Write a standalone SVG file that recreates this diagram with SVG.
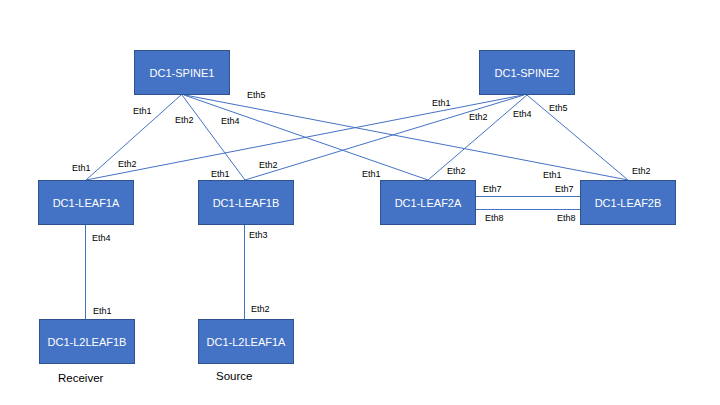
<svg xmlns="http://www.w3.org/2000/svg" width="720" height="405" viewBox="0 0 720 405">
<style>
.box{fill:#4472C4;stroke:#2F528F;stroke-width:1}
.nl{fill:#fff;font-family:"Liberation Sans",Arial,sans-serif;font-size:11px;text-anchor:middle}
.lk{stroke:#4472C4;stroke-width:1;fill:none}
.pl{fill:#000;font-family:"Liberation Sans",Arial,sans-serif;font-size:9px}
.cap{fill:#000;font-family:"Liberation Sans",Arial,sans-serif;font-size:11.5px}
</style>
<rect width="720" height="405" fill="#fff"/>
<g id="connectors">
<line class="lk" x1="181" y1="95" x2="86" y2="180"/>
<line class="lk" x1="182" y1="95" x2="245" y2="180"/>
<line class="lk" x1="184" y1="95" x2="428" y2="180"/>
<line class="lk" x1="185" y1="95" x2="628" y2="180"/>
<line class="lk" x1="523" y1="95" x2="86" y2="180"/>
<line class="lk" x1="524" y1="95" x2="245" y2="180"/>
<line class="lk" x1="527" y1="95" x2="428" y2="180"/>
<line class="lk" x1="527" y1="95" x2="628" y2="180"/>
<line class="lk" x1="476" y1="196.5" x2="580" y2="196.5"/>
<line class="lk" x1="476" y1="209.5" x2="580" y2="209.5"/>
<line class="lk" x1="85.5" y1="224" x2="85.5" y2="319"/>
<line class="lk" x1="244.5" y1="224" x2="244.5" y2="319"/>
</g>
<g id="labels">
<text class="pl" x="133" y="114">Eth1</text>
<text class="pl" x="175" y="123">Eth2</text>
<text class="pl" x="221" y="124">Eth4</text>
<text class="pl" x="247" y="98">Eth5</text>
<text class="pl" x="72" y="171">Eth1</text>
<text class="pl" x="118" y="167">Eth2</text>
<text class="pl" x="211" y="177">Eth1</text>
<text class="pl" x="259" y="168">Eth2</text>
<text class="pl" x="432" y="106">Eth1</text>
<text class="pl" x="469" y="120">Eth2</text>
<text class="pl" x="513" y="117">Eth4</text>
<text class="pl" x="549" y="111">Eth5</text>
<text class="pl" x="362" y="177">Eth1</text>
<text class="pl" x="447" y="174">Eth2</text>
<text class="pl" x="543" y="178">Eth1</text>
<text class="pl" x="632" y="174">Eth2</text>
<text class="pl" x="483" y="192">Eth7</text>
<text class="pl" x="555" y="192">Eth7</text>
<text class="pl" x="485" y="221">Eth8</text>
<text class="pl" x="557" y="221">Eth8</text>
<text class="pl" x="92" y="241">Eth4</text>
<text class="pl" x="249" y="238">Eth3</text>
<text class="pl" x="93" y="314">Eth1</text>
<text class="pl" x="251" y="312">Eth2</text>
<text class="cap" x="58" y="382">Receiver</text>
<text class="cap" x="216" y="380">Source</text>
</g>
<g id="spine1"><rect class="box" x="134.5" y="50.5" width="95" height="44"/><text class="nl" x="182" y="76.5">DC1-SPINE1</text></g>
<g id="spine2"><rect class="box" x="479.5" y="50.5" width="95" height="44"/><text class="nl" x="527" y="76.5">DC1-SPINE2</text></g>
<g id="leaf1a"><rect class="box" x="38.5" y="180.5" width="95" height="44"/><text class="nl" x="86" y="206.5">DC1-LEAF1A</text></g>
<g id="leaf1b"><rect class="box" x="198.5" y="180.5" width="95" height="44"/><text class="nl" x="246" y="206.5">DC1-LEAF1B</text></g>
<g id="leaf2a"><rect class="box" x="380.5" y="180.5" width="95" height="44"/><text class="nl" x="428" y="206.5">DC1-LEAF2A</text></g>
<g id="leaf2b"><rect class="box" x="580.5" y="180.5" width="95" height="44"/><text class="nl" x="628" y="206.5">DC1-LEAF2B</text></g>
<g id="l2leaf1b"><rect class="box" x="39.5" y="319.5" width="95" height="44"/><text class="nl" x="87" y="345.5">DC1-L2LEAF1B</text></g>
<g id="l2leaf1a"><rect class="box" x="198.5" y="319.5" width="95" height="44"/><text class="nl" x="246" y="345.5">DC1-L2LEAF1A</text></g>
</svg>
